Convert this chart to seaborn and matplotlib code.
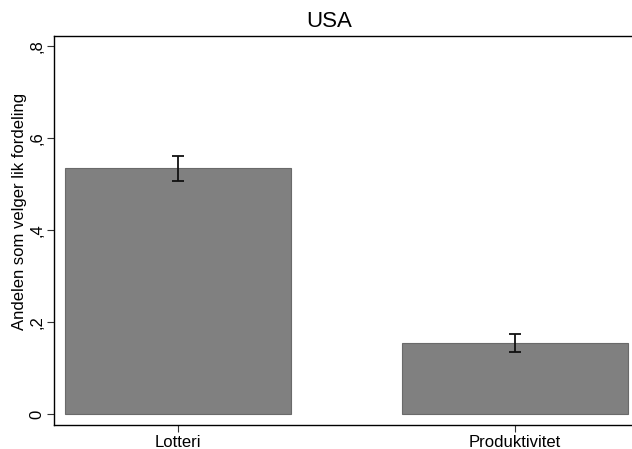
import numpy as np
import matplotlib
matplotlib.use('Agg')
import matplotlib.pyplot as plt
import seaborn as sns
import pandas as pd

sns.set_style('white')
plt.rcParams['font.family'] = ['Liberation Sans', 'DejaVu Sans']
plt.rcParams['text.color'] = 'black'
plt.rcParams['xtick.color'] = 'black'
plt.rcParams['ytick.color'] = 'black'
plt.rcParams['axes.labelcolor'] = 'black'

categories = ['Lotteri', 'Produktivitet']
shares = [0.535, 0.154]
ci_low = [0.507, 0.134]
ci_high = [0.562, 0.173]
yticks = [0, 0.2, 0.4, 0.6, 0.8]
ytick_labels = ['0', ',2', ',4', ',6', ',8']

df = pd.DataFrame({'cat': categories, 'share': shares})

fig = plt.figure(figsize=(6.32, 4.49), dpi=100)
ax = fig.add_axes([54 / 632, 24 / 449, 578 / 632, 389 / 449])

sns.barplot(data=df, x='cat', y='share', color='#808080', saturation=1,
            width=0.67, edgecolor='#6a6a6a', linewidth=0.8, ax=ax)

xpos = np.arange(len(categories))
lo = np.array(shares) - np.array(ci_low)
hi = np.array(ci_high) - np.array(shares)
ax.errorbar(xpos, shares, yerr=[lo, hi], fmt='none', ecolor='#111111',
            elinewidth=1.3, capsize=4, capthick=1.3)

ax.set_xlim(-0.368, 1.347)
ax.set_ylim(-0.024, 0.822)
ax.set_yticks(yticks)
ax.set_yticklabels(ytick_labels, rotation=90, va='center', fontsize=12)
ax.set_xticks(xpos)
ax.set_xticklabels(categories, fontsize=12)
ax.tick_params(axis='both', left=True, bottom=True, length=5, width=0.8,
               color='#333333', pad=2)
ax.set_xlabel('')
ax.set_ylabel('Andelen som velger lik fordeling', fontsize=12)
ax.yaxis.set_label_coords(-0.047, 0.55)

# Stata centres the title over the whole graph, a bit left of the plot centre
fig.text(329 / 632, 1 - 27 / 449, 'USA', fontsize=16, ha='center', va='baseline')

for side in ['left', 'bottom', 'top']:
    ax.spines[side].set_visible(True)
    ax.spines[side].set_color('black')
    ax.spines[side].set_linewidth(1.0)
ax.spines['right'].set_visible(False)

fig.savefig('out.png', dpi=100, facecolor='white')
